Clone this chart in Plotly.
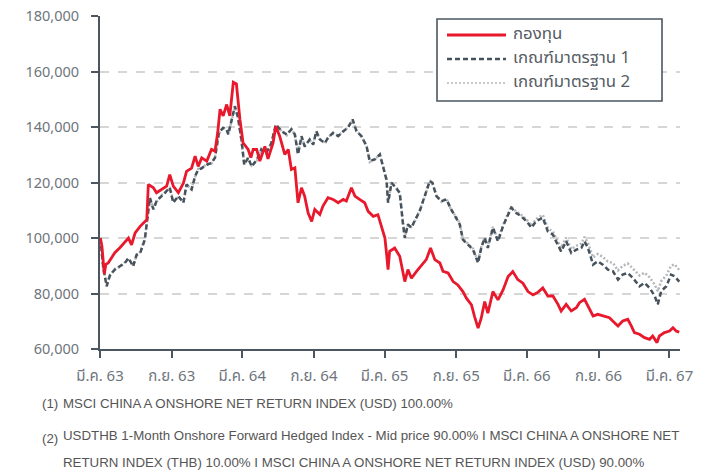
import plotly.graph_objects as go

# ---------------- data ----------------
fund_dates = [
    "2020-03-02", "2020-03-06", "2020-03-12", "2020-03-16", "2020-03-22", "2020-04-01", "2020-04-08",
    "2020-04-21", "2020-05-04", "2020-05-13", "2020-05-21", "2020-05-30", "2020-06-12", "2020-06-20",
    "2020-06-29", "2020-07-03", "2020-07-16", "2020-07-24", "2020-08-06", "2020-08-19", "2020-08-27",
    "2020-09-05", "2020-09-18", "2020-10-01", "2020-10-09", "2020-10-22", "2020-10-31", "2020-11-08",
    "2020-11-17", "2020-11-30", "2020-12-12", "2020-12-21", "2020-12-28", "2021-01-03", "2021-01-11",
    "2021-01-20", "2021-01-28", "2021-02-06", "2021-02-14", "2021-02-23", "2021-03-03", "2021-03-16",
    "2021-03-23", "2021-03-29", "2021-04-07", "2021-04-15", "2021-04-28", "2021-05-06", "2021-05-19",
    "2021-05-26", "2021-06-05", "2021-06-18", "2021-06-27", "2021-07-05", "2021-07-14", "2021-07-22",
    "2021-07-31", "2021-08-08", "2021-08-17", "2021-08-26", "2021-09-03", "2021-09-16", "2021-09-24",
    "2021-10-07", "2021-10-20", "2021-11-02", "2021-11-15", "2021-11-23", "2021-12-06", "2021-12-15",
    "2021-12-27", "2022-01-09", "2022-01-18", "2022-01-31", "2022-02-12", "2022-02-21", "2022-03-02",
    "2022-03-06", "2022-03-10", "2022-03-14", "2022-03-27", "2022-04-09", "2022-04-22", "2022-04-30",
    "2022-05-09", "2022-05-22", "2022-06-04", "2022-06-16", "2022-06-27", "2022-07-08", "2022-07-21",
    "2022-07-29", "2022-08-11", "2022-08-24", "2022-09-05", "2022-09-18", "2022-09-27", "2022-10-10",
    "2022-10-18", "2022-10-27", "2022-11-04", "2022-11-13", "2022-11-21", "2022-12-04", "2022-12-17",
    "2022-12-30", "2023-01-12", "2023-01-24", "2023-02-06", "2023-02-19", "2023-03-04", "2023-03-17",
    "2023-03-30", "2023-04-11", "2023-04-24", "2023-05-07", "2023-05-20", "2023-05-28", "2023-06-10",
    "2023-06-23", "2023-07-06", "2023-07-14", "2023-07-27", "2023-08-05", "2023-08-18", "2023-08-30",
    "2023-09-12", "2023-09-29", "2023-10-12", "2023-10-21", "2023-11-02", "2023-11-15", "2023-11-24",
    "2023-12-02", "2023-12-15", "2023-12-28", "2024-01-10", "2024-01-18", "2024-01-29", "2024-02-04",
    "2024-02-17", "2024-03-01", "2024-03-10", "2024-03-18", "2024-03-26",
]
fund_values = [
    100000, 97000, 87000, 90500, 91000, 93000, 94700,
    96500, 98800, 100000, 97500, 101800, 104200, 105500,
    106600, 119300, 118100, 116300, 117500, 118700, 122800,
    118700, 116300, 119800, 124000, 125200, 129500, 125800,
    128900, 127700, 131900, 131300, 138000, 146400, 144000,
    148100, 144000, 156100, 155500, 142700, 134300, 131900,
    129000, 131900, 131900, 127700, 133000, 128500, 134300,
    140300, 136700, 130100, 131900, 124700, 125300, 112700,
    118100, 115100, 109000, 106000, 110300, 108500, 111500,
    114500, 113900, 112700, 113900, 113300, 118100, 115100,
    113900, 112700, 109600, 107800, 108400, 104200, 100000,
    94600, 88600, 95200, 96400, 93400, 84300, 88600,
    85500, 88000, 90400, 92200, 96400, 92200, 91000,
    88000, 87400, 84300, 83100, 80700, 78300, 75900,
    71700, 67500, 71100, 77100, 72900, 80700, 77700,
    81300, 86100, 87900, 85000, 83700, 80700, 79500,
    80500, 82000, 79100, 79100, 76100, 73700, 76100,
    73700, 74900, 76700, 77900, 75500, 71900, 72500,
    71900, 71300, 69500, 68300, 70100, 70700, 68300,
    65900, 65300, 64100, 63500, 64700, 62300, 64700,
    65900, 66500, 67700, 66500, 66100,
]

bench_dates = [
    "2020-03-02", "2020-03-09", "2020-03-18", "2020-03-27", "2020-04-08", "2020-04-21", "2020-05-04",
    "2020-05-13", "2020-05-25", "2020-06-03", "2020-06-12", "2020-06-24", "2020-07-03", "2020-07-07",
    "2020-07-16", "2020-07-24", "2020-08-06", "2020-08-19", "2020-08-27", "2020-09-05", "2020-09-18",
    "2020-10-01", "2020-10-09", "2020-10-22", "2020-10-31", "2020-11-08", "2020-11-17", "2020-11-30",
    "2020-12-12", "2020-12-21", "2020-12-31", "2021-01-11", "2021-01-20", "2021-01-24", "2021-02-02",
    "2021-02-10", "2021-02-18", "2021-02-27", "2021-03-06", "2021-03-16", "2021-03-25", "2021-04-07",
    "2021-04-19", "2021-05-02", "2021-05-15", "2021-05-26", "2021-06-10", "2021-06-23", "2021-07-05",
    "2021-07-14", "2021-07-22", "2021-07-31", "2021-08-08", "2021-08-21", "2021-08-30", "2021-09-07",
    "2021-09-16", "2021-09-29", "2021-10-07", "2021-10-20", "2021-11-02", "2021-11-15", "2021-11-27",
    "2021-12-09", "2021-12-19", "2022-01-01", "2022-01-14", "2022-01-22", "2022-02-04", "2022-02-17",
    "2022-02-25", "2022-03-06", "2022-03-10", "2022-03-19", "2022-03-31", "2022-04-09", "2022-04-17",
    "2022-04-22", "2022-04-30", "2022-05-09", "2022-05-17", "2022-05-30", "2022-06-12", "2022-06-25",
    "2022-07-02", "2022-07-12", "2022-07-25", "2022-08-07", "2022-08-19", "2022-09-01", "2022-09-10",
    "2022-09-18", "2022-10-01", "2022-10-14", "2022-10-27", "2022-11-04", "2022-11-13", "2022-11-21",
    "2022-12-04", "2022-12-17", "2022-12-30", "2023-01-08", "2023-01-20", "2023-02-02", "2023-02-15",
    "2023-02-28", "2023-03-13", "2023-03-25", "2023-04-11", "2023-04-24", "2023-05-07", "2023-05-15",
    "2023-05-28", "2023-06-10", "2023-06-23", "2023-07-06", "2023-07-19", "2023-07-27", "2023-08-05",
    "2023-08-18", "2023-08-30", "2023-09-12", "2023-09-25", "2023-10-08", "2023-10-21", "2023-11-02",
    "2023-11-15", "2023-11-28", "2023-12-15", "2023-12-28", "2024-01-10", "2024-01-23", "2024-01-31",
    "2024-02-09", "2024-02-22", "2024-03-05", "2024-03-14", "2024-03-26",
]
bench1_values = [
    100000, 89800, 82600, 86800, 88600, 89800, 91000,
    92800, 89800, 94000, 94600, 99400, 109000, 114500,
    110300, 113300, 115100, 116900, 118100, 112700, 115100,
    112700, 119300, 117500, 122300, 124600, 125200, 126400,
    127000, 128900, 137900, 139700, 139100, 137300, 142700,
    147500, 143400, 135500, 126400, 128900, 125800, 128100,
    131900, 130700, 134300, 140900, 138500, 137300, 139100,
    137300, 130100, 136700, 133000, 135500, 133700, 138500,
    135500, 134300, 136100, 137900, 136700, 138500, 139700,
    142700, 138500, 136700, 133000, 127700, 128300, 130100,
    125800, 121000, 112700, 119900, 117900, 116300, 105500,
    100000, 104900, 103700, 106100, 109600, 115100, 120500,
    119900, 115100, 113300, 113900, 110300, 107300, 104900,
    99400, 97600, 95800, 91000, 96400, 100000, 96400,
    103700, 98800, 104300, 107300, 110900, 109000, 107800,
    106100, 103700, 106100, 107300, 102400, 101200, 98800,
    95200, 98800, 94600, 95800, 96400, 98800, 96400,
    90400, 91600, 90400, 88600, 88000, 85000, 86800,
    87400, 85600, 82600, 83800, 82000, 79100, 76100,
    80900, 82600, 86800, 86200, 84300,
]
bench2_values = [
    100000, 89500, 83200, 86500, 88900, 89600, 91300,
    92500, 90200, 93700, 94900, 99800, 109500, 114000,
    110800, 113000, 115500, 116600, 118400, 113100, 114800,
    113000, 119000, 117800, 122000, 124900, 125000, 126700,
    126800, 129200, 137500, 140000, 138800, 137600, 142400,
    147000, 143700, 135200, 126900, 128600, 126100, 127800,
    132200, 130400, 134600, 140500, 138800, 137000, 139400,
    137000, 130500, 136400, 133300, 135200, 134000, 138200,
    135800, 134000, 136400, 137600, 137000, 138200, 140000,
    142300, 138800, 136400, 133300, 127400, 128600, 129800,
    126100, 120700, 113200, 119600, 118200, 116000, 105900,
    100500, 104600, 104000, 105800, 109900, 114800, 120800,
    119600, 115400, 113000, 114200, 110000, 107600, 105200,
    99800, 97900, 96200, 91700, 96700, 100300, 96900,
    104000, 99300, 104700, 107700, 111300, 109500, 108300,
    106700, 104400, 106900, 108300, 103500, 102300, 100000,
    96500, 100200, 96000, 97200, 98000, 100400, 98200,
    93000, 94200, 93200, 91500, 91000, 88300, 90000,
    90800, 89000, 86500, 87500, 85800, 83200, 80800,
    84500, 86500, 90000, 90500, 88500,
]

tick_dates = ["2020-03-01", "2020-09-01", "2021-03-01", "2021-09-01", "2022-03-01",
              "2022-09-01", "2023-03-01", "2023-09-01", "2024-03-01"]
tick_labels = ["มี.ค. 63", "ก.ย. 63", "มี.ค. 64", "ก.ย. 64", "มี.ค. 65",
               "ก.ย. 65", "มี.ค. 66", "ก.ย. 66", "มี.ค. 67"]
y_ticks = [60000, 80000, 100000, 120000, 140000, 160000, 180000]

series_names = ["กองทุน", "เกณฑ์มาตรฐาน 1", "เกณฑ์มาตรฐาน 2"]
footnote_1 = "MSCI CHINA A ONSHORE NET RETURN INDEX (USD) 100.00%"
footnote_2a = "USDTHB 1-Month Onshore Forward Hedged Index - Mid price 90.00% I MSCI CHINA A ONSHORE NET"
footnote_2b = "RETURN INDEX (THB) 10.00% I MSCI CHINA A ONSHORE NET RETURN INDEX (USD) 90.00%"

# ---------------- style ----------------
W, H = 707, 472
ML, MR, MT, MB = 100, 27, 16, 123
PW, PH = W - ML - MR, H - MT - MB

RED = "#E8192C"
DARK = "#46525C"
GREY = "#B4B7BA"
AXIS = "#4B5660"
TXT = "#6E757C"
FONT = "Noto Sans Thai, Tahoma, Liberation Sans, Arial, sans-serif"

line_styles = [
    dict(color=RED, width=2.8),
    dict(color=DARK, width=2.5, dash="5px,3px"),
    dict(color=GREY, width=2.5, dash="2px,2px"),
]


def px_x(px):
    return (px - ML) / PW


def px_y(py):
    return (MT + PH - py) / PH


fig = go.Figure()
fig.add_trace(go.Scatter(x=bench_dates, y=bench2_values, name=series_names[2], mode="lines",
                         line=line_styles[2]))
fig.add_trace(go.Scatter(x=bench_dates, y=bench1_values, name=series_names[1], mode="lines",
                         line=line_styles[1]))
fig.add_trace(go.Scatter(x=fund_dates, y=fund_values, name=series_names[0], mode="lines",
                         line=line_styles[0]))

fig.update_layout(
    width=W, height=H,
    margin=dict(l=ML, r=MR, t=MT, b=MB),
    paper_bgcolor="white", plot_bgcolor="white",
    font=dict(family=FONT, color=TXT, size=14),
    showlegend=False,
    xaxis=dict(type="date", range=["2020-03-01", "2024-03-28"],
               tickvals=tick_dates, ticktext=tick_labels,
               showline=True, linecolor=AXIS, linewidth=2,
               ticks="outside", ticklen=7, tickwidth=2, tickcolor=AXIS,
               showgrid=False, zeroline=False, ticklabelstandoff=5,
               automargin=False,
               tickfont=dict(size=15, color=TXT)),
    yaxis=dict(range=[60000, 180000], tickvals=y_ticks, tickformat=",",
               showline=True, linecolor=AXIS, linewidth=2,
               ticks="outside", ticklen=7, tickwidth=2, tickcolor=AXIS,
               showgrid=True, gridcolor="#D6D6D6", griddash="dash", gridwidth=1.5,
               zeroline=False, ticklabelstandoff=9, automargin=False,
               tickfont=dict(size=14.5, color=TXT)),
)

# ---- legend box drawn by hand (to match the reference geometry) ----
fig.add_shape(type="rect", xref="paper", yref="paper",
              x0=px_x(437), x1=px_x(662), y0=px_y(101), y1=px_y(19),
              line=dict(color=AXIS, width=1.6), fillcolor="white", layer="above")
for i, name in enumerate(series_names):
    yc = 35 + 24 * i
    st = dict(line_styles[i])
    if i == 2:
        st["width"] = 1.5
    fig.add_shape(type="line", xref="paper", yref="paper",
                  x0=px_x(447), x1=px_x(506), y0=px_y(yc), y1=px_y(yc),
                  line=st, layer="above")
    fig.add_annotation(text=name, xref="paper", yref="paper", x=px_x(512), y=px_y(yc - 1),
                       xanchor="left", yanchor="middle", showarrow=False, borderpad=0,
                       font=dict(size=16.8, color="#555C63", family=FONT))

note_font = dict(family="Liberation Sans, Arial, sans-serif", size=13.3, color="#555555")
notes = [
    ("(1)", 41, 403),
    (footnote_1, 62, 403),
    ("(2)", 41, 439),
    (footnote_2a, 62, 435),
    (footnote_2b, 62, 462),
]
for text, x, y in notes:
    fig.add_annotation(text=text, xref="paper", yref="paper", x=px_x(x), y=px_y(y),
                       xanchor="left", yanchor="middle", showarrow=False, borderpad=0,
                       font=note_font)

fig.write_html("out.html", config={"displayModeBar": False},
               post_script="document.body.style.margin='0px';")
